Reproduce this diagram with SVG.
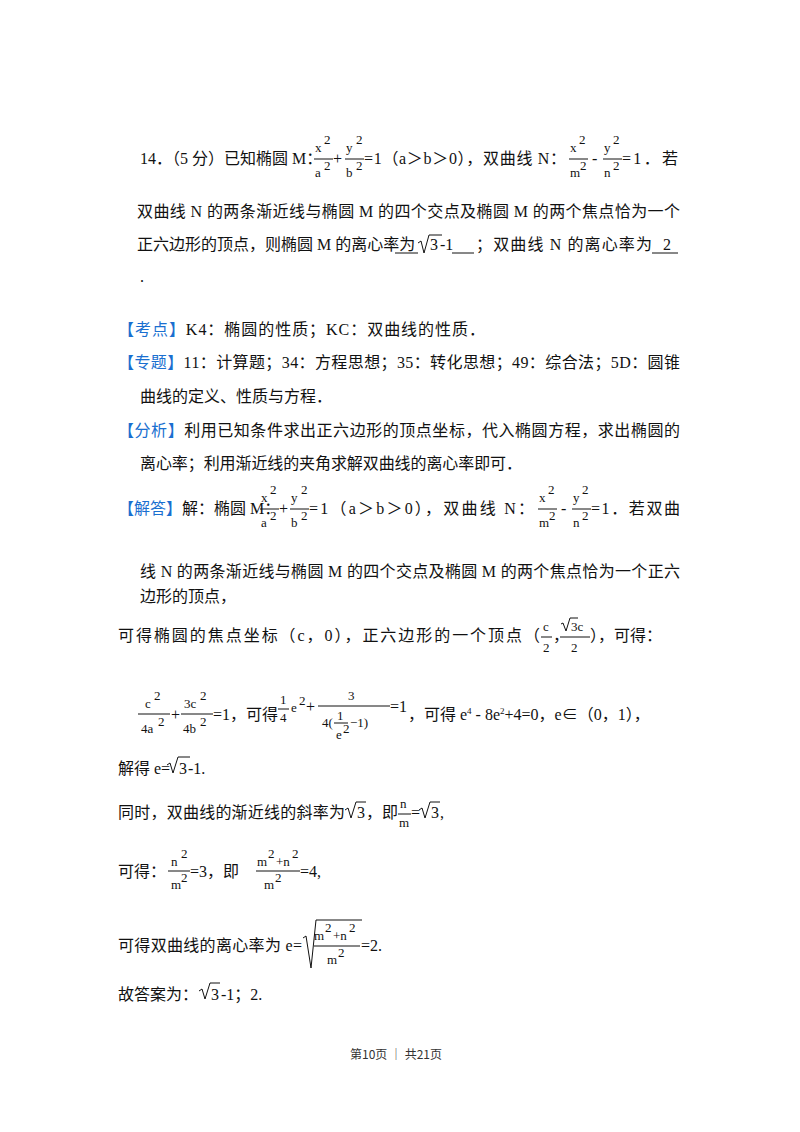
<svg xmlns="http://www.w3.org/2000/svg" width="800" height="1132" viewBox="0 0 800 1132">
<style>
text{font-family:"Liberation Serif","Noto Sans CJK SC",serif;font-size:16px;fill:#111}
.s{font-size:13px}
.b{fill:#1a6fd0}
.f{font-size:12px;font-family:"Noto Sans CJK SC",sans-serif;fill:#333}
line,path{stroke:#111;stroke-width:1;fill:none}
</style>
<rect width="800" height="1132" fill="#fff"/>
<!-- line 1 -->
<text x="140" y="164">14．（5 分）已知椭圆 M：</text>
<text class="s" x="315" y="152">x</text><text class="s" x="324" y="144">2</text>
<line x1="314" y1="159" x2="333" y2="159"/>
<text class="s" x="315" y="177">a</text><text class="s" x="324" y="170">2</text>
<text x="333" y="164">+</text>
<text class="s" x="346" y="152">y</text><text class="s" x="356" y="144">2</text>
<line x1="345" y1="159" x2="364" y2="159"/>
<text class="s" x="346" y="177">b</text><text class="s" x="356" y="170">2</text>
<text x="364" y="164" textLength="202" lengthAdjust="spacing">=1（a＞b＞0），双曲线 N：</text>
<text class="s" x="570" y="152">x</text><text class="s" x="579" y="144">2</text>
<line x1="569" y1="159" x2="588" y2="159"/>
<text class="s" x="570" y="177">m</text><text class="s" x="580" y="170">2</text>
<text x="592" y="164">-</text>
<text class="s" x="604" y="152">y</text><text class="s" x="613" y="144">2</text>
<line x1="603" y1="159" x2="622" y2="159"/>
<text class="s" x="604" y="177">n</text><text class="s" x="613" y="170">2</text>
<text x="622" y="164" textLength="56" lengthAdjust="spacing">=1．若</text>
<text x="137" y="217" textLength="543" lengthAdjust="spacing">双曲线 N 的两条渐近线与椭圆 M 的四个交点及椭圆 M 的两个焦点恰为一个</text>
<text x="137" y="250">正六边形的顶点，则椭圆 M 的离心率为</text>
<line x1="395" y1="253" x2="418" y2="253"/>
<path d="M418 243 L421 241 L424 253 L429 235 L442 235"/>
<text x="430" y="250">3</text><text x="440" y="250">-1</text>
<line x1="452" y1="253" x2="474" y2="253"/>
<text x="476" y="250" textLength="176" lengthAdjust="spacing">；双曲线 N 的离心率为</text>
<text x="663" y="250">2</text>
<line x1="652" y1="253" x2="678" y2="253"/>
<text x="140" y="282">.</text>
<!-- 考点 -->
<text x="118" y="335" textLength="367" lengthAdjust="spacing"><tspan class="b">【考点】</tspan>K4：椭圆的性质；KC：双曲线的性质．</text>
<text x="118" y="368" textLength="562" lengthAdjust="spacing"><tspan class="b">【专题】</tspan>11：计算题；34：方程思想；35：转化思想；49：综合法；5D：圆锥</text>
<text x="140" y="402">曲线的定义、性质与方程．</text>
<text x="118" y="436" textLength="562" lengthAdjust="spacing"><tspan class="b">【分析】</tspan>利用已知条件求出正六边形的顶点坐标，代入椭圆方程，求出椭圆的</text>
<text x="140" y="469" textLength="382" lengthAdjust="spacing">离心率；利用渐近线的夹角求解双曲线的离心率即可．</text>
<!-- 解答 -->
<text x="118" y="514"><tspan class="b">【解答】</tspan>解：椭圆 M：</text>
<text class="s" x="261" y="502">x</text><text class="s" x="270" y="494">2</text>
<line x1="260" y1="509" x2="279" y2="509"/>
<text class="s" x="261" y="527">a</text><text class="s" x="270" y="520">2</text>
<text x="279" y="514">+</text>
<text class="s" x="291" y="502">y</text><text class="s" x="301" y="494">2</text>
<line x1="290" y1="509" x2="309" y2="509"/>
<text class="s" x="291" y="527">b</text><text class="s" x="301" y="520">2</text>
<text x="309" y="514" textLength="225" lengthAdjust="spacing">=1（a＞b＞0），双曲线 N：</text>
<text class="s" x="539" y="502">x</text><text class="s" x="548" y="494">2</text>
<line x1="538" y1="509" x2="557" y2="509"/>
<text class="s" x="539" y="527">m</text><text class="s" x="549" y="520">2</text>
<text x="561" y="514">-</text>
<text class="s" x="573" y="502">y</text><text class="s" x="582" y="494">2</text>
<line x1="572" y1="509" x2="591" y2="509"/>
<text class="s" x="573" y="527">n</text><text class="s" x="582" y="520">2</text>
<text x="591" y="514" textLength="89" lengthAdjust="spacing">=1．若双曲</text>
<text x="140" y="577" textLength="540" lengthAdjust="spacing">线 N 的两条渐近线与椭圆 M 的四个交点及椭圆 M 的两个焦点恰为一个正六</text>
<text x="140" y="602">边形的顶点，</text>
<text x="118" y="641" textLength="422" lengthAdjust="spacing">可得椭圆的焦点坐标（c，0），正六边形的一个顶点（</text>
<text class="s" x="543" y="631">c</text>
<line x1="541" y1="637" x2="552" y2="637"/>
<text class="s" x="543" y="652">2</text>
<text x="553" y="641">，</text>
<path d="M561 624 L563 623 L566 631 L570 618 L578 618"/>
<text class="s" x="571" y="631">3c</text>
<line x1="560" y1="637" x2="590" y2="637"/>
<text class="s" x="571" y="652">2</text>
<text x="590" y="641">），可得：</text>
<!-- equation line -->
<text class="s" x="145" y="708">c</text><text class="s" x="154" y="700">2</text>
<line x1="138" y1="714" x2="170" y2="714"/>
<text class="s" x="141" y="733">4a</text><text class="s" x="158" y="726">2</text>
<text x="171" y="720">+</text>
<text class="s" x="184" y="708">3c</text><text class="s" x="200" y="700">2</text>
<line x1="181" y1="714" x2="213" y2="714"/>
<text class="s" x="183" y="733">4b</text><text class="s" x="200" y="726">2</text>
<text x="213" y="720">=1，可得</text>
<text class="s" x="280" y="704">1</text>
<line x1="278" y1="709" x2="289" y2="709"/>
<text class="s" x="280" y="722">4</text>
<text class="s" x="291" y="712">e</text><text class="s" x="299" y="705">2</text>
<text x="306" y="712">+</text>
<text class="s" x="348" y="700">3</text>
<line x1="318" y1="706" x2="390" y2="706"/>
<text class="s" x="322" y="727">4(</text>
<text class="s" x="337" y="720">1</text>
<line x1="334" y1="723" x2="348" y2="723"/>
<text class="s" x="336" y="739">e</text><text class="s" x="343" y="733">2</text>
<text class="s" x="350" y="727">−1)</text>
<text x="390" y="712">=1</text>
<text x="408" y="720">，可得 e<tspan font-size="9" dy="-6">4</tspan><tspan dy="6"> - 8e</tspan><tspan font-size="9" dy="-6">2</tspan><tspan dy="6">+4=0，e∈（0，1），</tspan></text>
<text x="118" y="774">解得 e=</text>
<path d="M167 765 L170 763 L173 773 L178 757 L190 757"/>
<text x="179" y="774">3</text><text x="188" y="774">-1.</text>
<!-- 同时 -->
<text x="118" y="818" textLength="227" lengthAdjust="spacing">同时，双曲线的渐近线的斜率为</text>
<path d="M345 810 L348 808 L351 818 L356 802 L366 802"/>
<text x="357" y="818">3</text>
<text x="366" y="818">，即</text>
<text class="s" x="400" y="808">n</text>
<line x1="398" y1="814" x2="411" y2="814"/>
<text class="s" x="399" y="827">m</text>
<text x="411" y="818">=</text>
<path d="M419 810 L422 808 L425 818 L430 802 L440 802"/>
<text x="431" y="818">3</text><text x="440" y="818">,</text>
<text x="118" y="877">可得：</text>
<text class="s" x="171" y="866">n</text><text class="s" x="181" y="858">2</text>
<line x1="168" y1="871" x2="190" y2="871"/>
<text class="s" x="171" y="889">m</text><text class="s" x="181" y="882">2</text>
<text x="190" y="877">=3，即</text>
<text class="s" x="257" y="866">m</text><text class="s" x="268" y="858">2</text>
<text class="s" x="276" y="866">+n</text><text class="s" x="292" y="858">2</text>
<line x1="256" y1="871" x2="300" y2="871"/>
<text class="s" x="264" y="889">m</text><text class="s" x="275" y="882">2</text>
<text x="300" y="877">=4,</text>
<text x="118" y="951" textLength="184" lengthAdjust="spacing">可得双曲线的离心率为 e=</text>
<path d="M303 938 L306 936 L311 968 L316 920 L362 920"/>
<text class="s" x="314" y="940">m</text><text class="s" x="325" y="932">2</text>
<text class="s" x="333" y="940">+n</text><text class="s" x="349" y="932">2</text>
<line x1="314" y1="946" x2="360" y2="946"/>
<text class="s" x="327" y="964">m</text><text class="s" x="338" y="957">2</text>
<text x="361" y="951">=2.</text>
<text x="118" y="1000">故答案为：</text>
<path d="M199 991 L202 989 L205 999 L210 983 L220 983"/>
<text x="211" y="1000">3</text><text x="221" y="1000">-1；2.</text>
<text class="f" x="350" y="1059">第10页  │ 共21页</text>
</svg>
